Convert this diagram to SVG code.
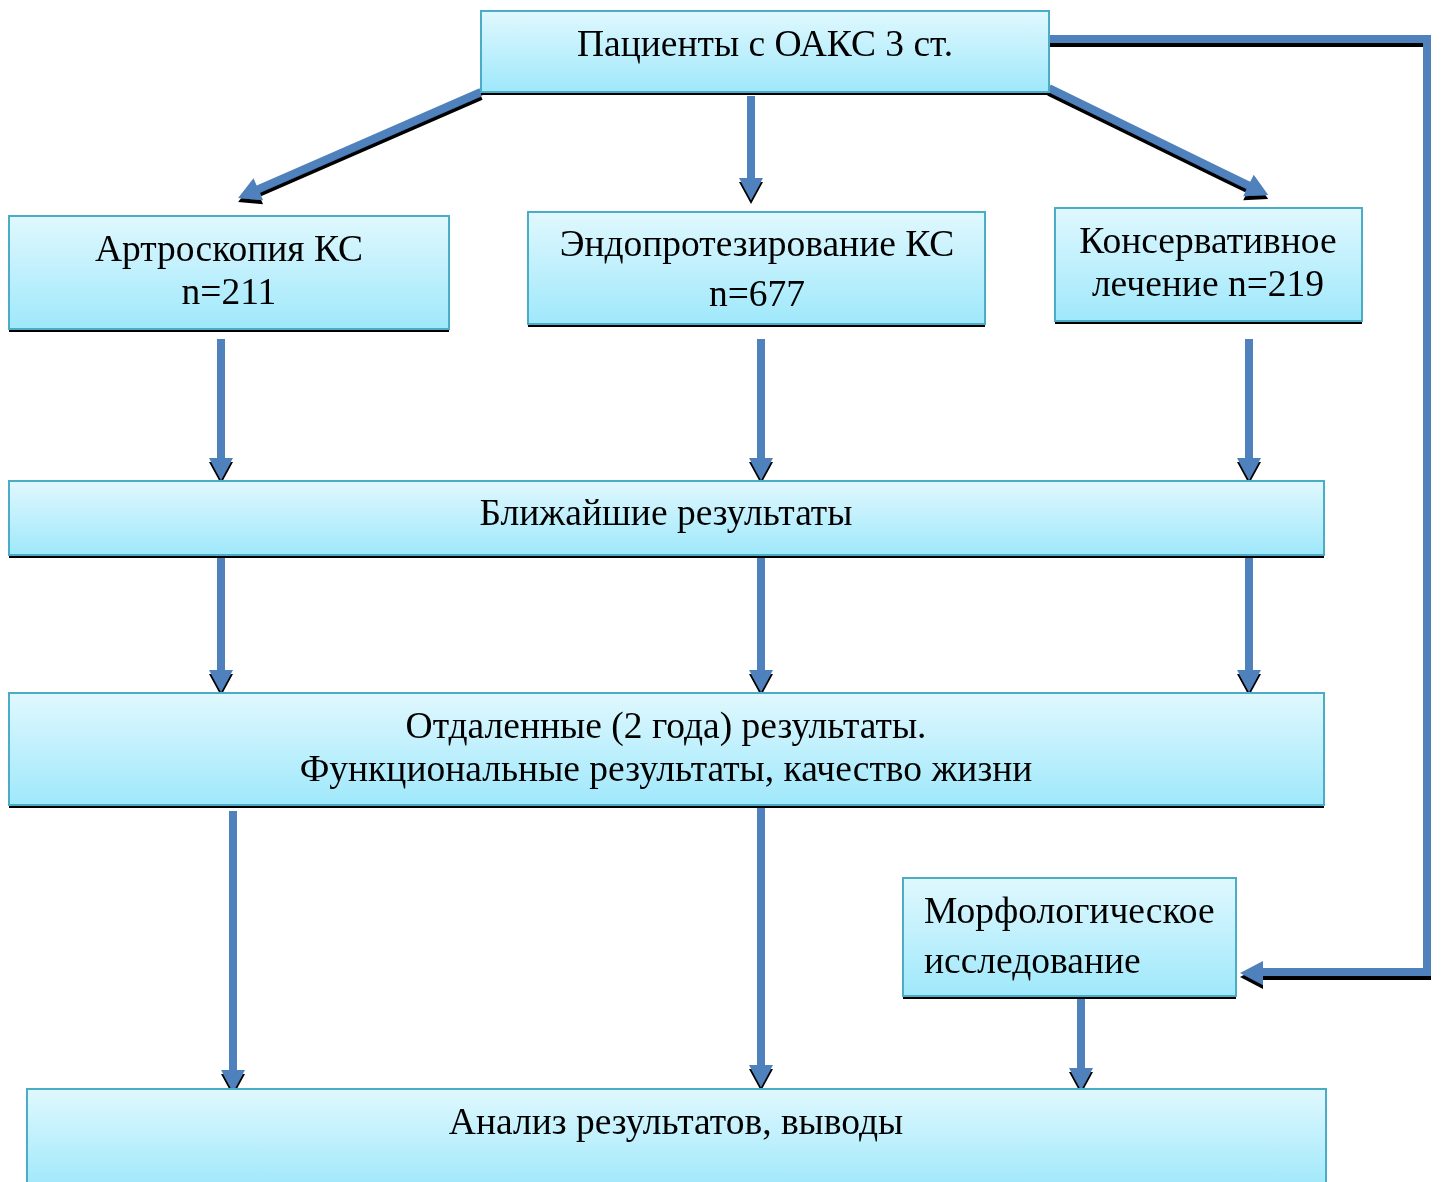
<svg xmlns="http://www.w3.org/2000/svg" width="1441" height="1182" viewBox="0 0 1441 1182">
<defs>
<linearGradient id="g" x1="0" y1="0" x2="0" y2="1">
<stop offset="0" stop-color="#e0f8fe"/>
<stop offset="1" stop-color="#9fe8fb"/>
</linearGradient>
<filter id="sh" x="-5%" y="-5%" width="110%" height="110%">
<feOffset in="SourceAlpha" dx="0" dy="4" result="o"/>
<feMerge><feMergeNode in="o"/><feMergeNode in="SourceGraphic"/></feMerge>
</filter>
</defs>
<style>
.box{fill:url(#g);stroke:#4bacc6;stroke-width:2}
.bs{fill:#000}
.t{font-family:"Liberation Serif","Times New Roman",serif;font-size:37.5px;fill:#000}
.c{text-anchor:middle}
.a{fill:#4f81bd}
.ln{fill:none;stroke:#4f81bd;stroke-width:8;stroke-linejoin:miter}
</style>
<rect width="1441" height="1182" fill="#fff"/>

<g id="connectors" filter="url(#sh)">
<g transform="translate(481,92) rotate(156.43)"><polygon class="a" points="0,-4 243,-4 243,-12 265,0 243,12 243,4 0,4"/></g>
<g transform="translate(1049,88) rotate(26.04)"><polygon class="a" points="0,-4 222,-4 222,-12 244,0 222,12 222,4 0,4"/></g>
<polygon class="a" points="747,96 755,96 755,178 763,178 751,200 739,178 747,178"/>
<polygon class="a" points="217,339 225,339 225,458 233,458 221,480 209,458 217,458"/>
<polygon class="a" points="757,339 765,339 765,458 773,458 761,480 749,458 757,458"/>
<polygon class="a" points="1245,339 1253,339 1253,458 1261,458 1249,480 1237,458 1245,458"/>
<polygon class="a" points="217,547 225,547 225,670 233,670 221,692 209,670 217,670"/>
<polygon class="a" points="757,547 765,547 765,670 773,670 761,692 749,670 757,670"/>
<polygon class="a" points="1245,547 1253,547 1253,670 1261,670 1249,692 1237,670 1245,670"/>
<polygon class="a" points="229,811 237,811 237,1070 245,1070 233,1092 221,1070 229,1070"/>
<polygon class="a" points="757,806 765,806 765,1065 773,1065 761,1087 749,1065 757,1065"/>
<polygon class="a" points="1077,990 1085,990 1085,1068 1093,1068 1081,1090 1069,1068 1077,1068"/>
<path class="ln" d="M1045,39 H1427 V972 H1262"/>
<polygon class="a" points="1263,961 1263,985 1240,973"/>
</g>

<g id="n1"><rect class="bs" x="481" y="14" width="568" height="81"/><rect class="box" x="481" y="11" width="568" height="81"/><text class="t c" x="765" y="56">Пациенты с ОАКС 3 ст.</text></g>
<g id="n2"><rect class="bs" x="9" y="219" width="440" height="113"/><rect class="box" x="9" y="216" width="440" height="113"/><text class="t c" x="229" y="261">Артроскопия КС</text><text class="t c" x="229" y="304">n=211</text></g>
<g id="n3"><rect class="bs" x="528" y="215" width="457" height="112"/><rect class="box" x="528" y="212" width="457" height="112"/><text class="t c" x="757" y="256">Эндопротезирование КС</text><text class="t c" x="757" y="306">n=677</text></g>
<g id="n4"><rect class="bs" x="1055" y="211" width="307" height="113"/><rect class="box" x="1055" y="208" width="307" height="113"/><text class="t c" x="1208" y="253">Консервативное</text><text class="t c" x="1208" y="296">лечение n=219</text></g>
<g id="n5"><rect class="bs" x="9" y="484" width="1315" height="74"/><rect class="box" x="9" y="481" width="1315" height="74"/><text class="t c" x="666" y="525">Ближайшие результаты</text></g>
<g id="n6"><rect class="bs" x="9" y="696" width="1315" height="112"/><rect class="box" x="9" y="693" width="1315" height="112"/><text class="t c" x="666" y="738">Отдаленные (2 года) результаты.</text><text class="t c" x="666" y="781">Функциональные результаты, качество жизни</text></g>
<g id="n7"><rect class="bs" x="903" y="881" width="333" height="118"/><rect class="box" x="903" y="878" width="333" height="118"/><text class="t" x="924" y="923">Морфологическое</text><text class="t" x="924" y="973">исследование</text></g>
<g id="n8"><rect class="box" x="27" y="1089" width="1299" height="100"/><text class="t c" x="676" y="1134">Анализ результатов, выводы</text></g>
</svg>
